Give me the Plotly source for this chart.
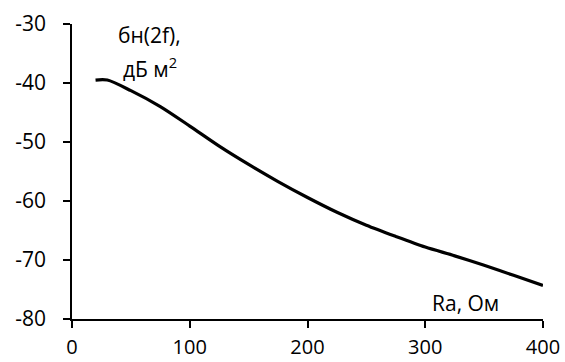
import plotly.graph_objects as go

ra_ohm = [20, 30, 50, 75, 100, 125, 150, 175, 200, 225, 250, 275, 300, 325, 350, 375, 400]
sigma_db = [-39.5, -39.5, -41.3, -44.0, -47.3, -50.7, -53.8, -56.7, -59.4, -61.9, -64.1, -66.0,
            -67.8, -69.3, -70.9, -72.6, -74.3]

x_ticks = [0, 100, 200, 300, 400]
y_ticks = [-80, -70, -60, -50, -40, -30]

font_family = "Open Sans"
fs = 21

fig = go.Figure()
fig.add_trace(go.Scatter(
    x=ra_ohm, y=sigma_db, mode="lines",
    line=dict(color="black", width=3.2, shape="spline", smoothing=0.8),
    showlegend=False, hoverinfo="skip",
))

fig.update_layout(
    width=565, height=362,
    margin=dict(l=72, r=22, t=24, b=43, autoexpand=False),
    paper_bgcolor="white", plot_bgcolor="white",
    font=dict(family=font_family, size=fs, color="black"),
    xaxis=dict(
        range=[0, 400], tickvals=x_ticks, ticktext=[str(v) for v in x_ticks],
        showgrid=False, zeroline=False, showline=True, linecolor="black", linewidth=1.5,
        ticks="outside", ticklen=7, tickwidth=1.5, tickcolor="black",
        tickfont=dict(family=font_family, size=20, color="black"),
        ticklabelstandoff=2, automargin=False,
    ),
    yaxis=dict(
        range=[-80, -30], tickvals=y_ticks, ticktext=[str(v) for v in y_ticks],
        showgrid=False, zeroline=False, showline=True, linecolor="black", linewidth=1.5,
        ticks="outside", ticklen=7, tickwidth=1.5, tickcolor="black",
        ticklabelstandoff=13, automargin=False,
    ),
    annotations=[
        dict(text="бн(2f),", x=66, y=-31.8, xref="x", yref="y", showarrow=False,
             font=dict(family=font_family, size=fs, color="black")),
        dict(text="дБ м<sup>2</sup>", x=66, y=-37.4, xref="x", yref="y", showarrow=False,
             font=dict(family=font_family, size=fs, color="black")),
        dict(text="Ra, Ом", x=334, y=-77.3, xref="x", yref="y", showarrow=False,
             font=dict(family=font_family, size=fs, color="black")),
    ],
)

fig.write_html("out.html")
